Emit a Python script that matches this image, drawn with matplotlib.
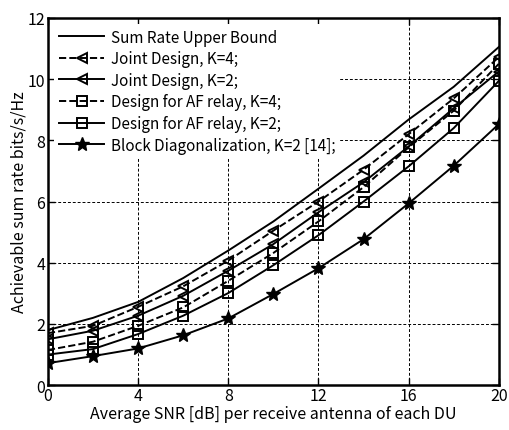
import matplotlib
matplotlib.use("Agg")
import matplotlib.pyplot as plt

plt.rcParams['font.family'] = ['Noto Sans CJK JP', 'DejaVu Sans']

snr = [0, 2, 4, 6, 8, 10, 12, 14, 16, 18, 20]
upper_bound = [1.8, 2.2, 2.72, 3.5, 4.4, 5.35, 6.42, 7.5, 8.68, 9.75, 11.05]
joint_k4 = [1.7, 1.94, 2.56, 3.23, 4.07, 5.05, 6.0, 7.04, 8.2, 9.37, 10.72]
joint_k2 = [1.5, 1.78, 2.27, 2.92, 3.74, 4.61, 5.65, 6.63, 7.8, 9.05, 10.25]
af_k4 = [1.15, 1.42, 1.94, 2.54, 3.41, 4.32, 5.35, 6.47, 7.77, 8.97, 10.5]
af_k2 = [1.0, 1.18, 1.67, 2.27, 3.01, 3.92, 4.9, 6.0, 7.15, 8.4, 9.94]
bd_k2 = [0.72, 0.95, 1.2, 1.63, 2.18, 2.98, 3.82, 4.77, 5.94, 7.17, 8.53]

labels = ["Sum Rate Upper Bound", "Joint Design, K=4;", "Joint Design, K=2;",
          "Design for AF relay, K=4;", "Design for AF relay, K=2;",
          "Block Diagonalization, K=2 [14];"]
xticks = [0, 4, 8, 12, 16, 20]
yticks = [0, 2, 4, 6, 8, 10, 12]

fig = plt.figure(figsize=(5.1, 4.31), dpi=100)
ax = fig.add_axes([0.094, 0.104, 0.884, 0.852])

lw = 1.4
ms = 7.5
ax.plot(snr, upper_bound, '-', color='black', lw=lw, label=labels[0])
ax.plot(snr, joint_k4, '--', marker='<', color='black', lw=lw, ms=ms, mfc='none', mew=1.4, label=labels[1])
ax.plot(snr, joint_k2, '-', marker='<', color='black', lw=lw, ms=ms, mfc='none', mew=1.4, label=labels[2])
ax.plot(snr, af_k4, '--', marker='s', color='black', lw=lw, ms=ms, mfc='none', mew=1.4, label=labels[3])
ax.plot(snr, af_k2, '-', marker='s', color='black', lw=lw, ms=ms, mfc='none', mew=1.4, label=labels[4])
ax.plot(snr, bd_k2, '-', marker='*', color='black', lw=lw, ms=10.5, label=labels[5])

ax.set_xlim(0, 20)
ax.set_ylim(0, 12)
ax.set_xticks(xticks)
ax.set_yticks(yticks)
ax.grid(True, linestyle=(0, (3, 2)), color='black', lw=0.7)
ax.tick_params(direction='in', top=True, right=True, labelsize=11.5, length=5, width=1, pad=2)
ax.tick_params(axis='x', pad=1)
for s in ax.spines.values():
    s.set_linewidth(1.8)

ax.set_xlabel("Average SNR [dB] per receive antenna of each DU", fontsize=11.5, labelpad=1)
ax.set_ylabel("Achievable sum rate bits/s/Hz", fontsize=11.5, labelpad=0)

leg = ax.legend(loc='upper left', fontsize=11, frameon=True, fancybox=False,
                edgecolor='white', framealpha=1, handlelength=3.0, handletextpad=0.4,
                labelspacing=0.3, borderaxespad=0.4, borderpad=0.3)
leg.get_frame().set_linewidth(0)

fig.savefig("out.png", dpi=100)
